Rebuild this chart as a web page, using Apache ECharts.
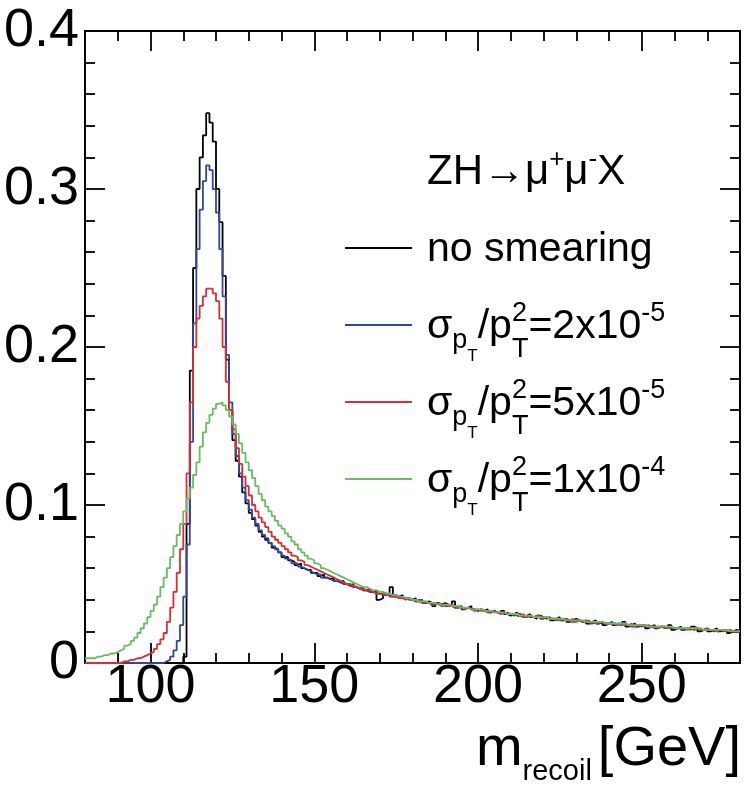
<!DOCTYPE html>
<html>
<head>
<meta charset="utf-8">
<script src="https://cdn.jsdelivr.net/npm/echarts@6/dist/echarts.min.js"></script>
<style>
  html, body { margin: 0; padding: 0; background: #fff; }
  #chart { width: 747px; height: 788px; }
</style>
</head>
<body>
<div id="chart"></div>
<script>
// histogram bins: 1 GeV wide, lower edges 80 ... 279
const binStart = 80
const binWidth = 1

// bin contents in units of 1e-3 (10 bins per row)
const noSmearing = [
  0, 0, 0, 0, 0, 0, 0, 0, 0, 0,
  0, 0, 0, 0, 0, 0, 0, 0, 0, 0,
  0, 0, 0, 0, 0, 0, 0, 0, 0, 0,
  4, 88, 185, 250, 300, 320, 334, 348, 342, 330,
  300, 279, 245, 192, 160, 141, 128, 118, 108, 101,
  95, 91, 87, 83, 80, 78, 76, 73, 72, 70,
  67, 67, 65, 64, 62, 63, 60, 59, 59, 57,
  57, 55, 56, 54, 53, 54, 52, 51, 52, 50,
  49, 50, 48, 47, 48, 46, 47, 45, 46, 40,
  41, 44, 43, 48, 43, 42, 43, 41, 41, 40,
  41, 39, 40, 38, 39, 38, 36, 38, 37, 38,
  37, 36, 39, 35, 36, 34, 35, 36, 34, 33,
  34, 33, 34, 32, 33, 32, 31, 33, 31, 30,
  31, 32, 30, 29, 30, 31, 29, 28, 30, 29,
  28, 29, 27, 28, 29, 27, 28, 26, 27, 28,
  27, 26, 27, 25, 26, 27, 25, 26, 24, 25,
  26, 24, 25, 24, 26, 23, 24, 25, 23, 24,
  24, 22, 23, 24, 22, 23, 23, 22, 24, 21,
  22, 23, 21, 22, 21, 23, 22, 20, 21, 22,
  20, 21, 22, 20, 21, 21, 19, 20, 21, 20
]

const smear2e5 = [
  0, 0, 0, 0, 0, 0, 0, 0, 0, 0,
  0, 0, 0, 0, 0, 0, 0, 0, 0, 0,
  0, 0, 0, 0, 1, 2, 4, 8, 14, 24,
  42, 75, 140, 215, 262, 287, 305, 315, 312, 300,
  285, 262, 232, 195, 165, 145, 131, 120, 111, 103,
  97, 92, 88, 84, 81, 79, 76, 74, 72, 70,
  68, 66, 65, 63, 63, 61, 60, 59, 58, 57,
  56, 56, 54, 54, 53, 52, 52, 51, 50, 50,
  49, 48, 48, 47, 46, 46, 45, 45, 44, 44,
  43, 43, 44, 42, 42, 41, 42, 41, 40, 40,
  39, 40, 39, 38, 38, 37, 38, 37, 36, 37,
  36, 36, 35, 36, 35, 34, 35, 34, 34, 33,
  34, 33, 33, 32, 33, 32, 32, 31, 32, 31,
  30, 31, 31, 30, 29, 30, 29, 29, 30, 28,
  29, 28, 28, 27, 28, 27, 28, 27, 26, 27,
  27, 26, 26, 27, 25, 26, 25, 26, 25, 25,
  25, 24, 25, 24, 25, 24, 23, 24, 24, 23,
  24, 23, 23, 22, 23, 23, 22, 23, 22, 22,
  22, 22, 21, 22, 22, 21, 22, 21, 21, 21,
  21, 20, 21, 21, 20, 21, 20, 20, 20, 20
]

const smear5e5 = [
  0, 0, 0, 0, 0, 0, 0, 0, 0, 0,
  0, 1, 1, 2, 2, 3, 3, 4, 5, 6,
  7, 9, 12, 15, 19, 26, 35, 45, 57, 72,
  88, 120, 165, 200, 218, 226, 232, 237, 237, 234,
  229, 218, 200, 178, 160, 148, 136, 126, 118, 112,
  106, 100, 96, 92, 89, 86, 83, 80, 78, 76,
  74, 72, 70, 68, 67, 65, 64, 62, 61, 60,
  59, 58, 57, 56, 55, 54, 53, 52, 51, 50,
  50, 49, 48, 47, 47, 46, 46, 45, 44, 44,
  44, 43, 43, 42, 42, 41, 41, 40, 41, 40,
  39, 39, 38, 39, 38, 37, 37, 38, 37, 36,
  36, 37, 36, 35, 35, 34, 35, 34, 33, 34,
  33, 33, 32, 33, 32, 32, 31, 32, 31, 31,
  31, 30, 30, 31, 29, 30, 29, 30, 29, 28,
  29, 28, 28, 28, 27, 28, 27, 27, 28, 26,
  27, 26, 27, 26, 26, 25, 26, 26, 25, 25,
  25, 25, 24, 25, 24, 24, 25, 23, 24, 24,
  23, 24, 23, 23, 22, 23, 23, 22, 23, 22,
  22, 22, 22, 21, 22, 21, 22, 21, 21, 22,
  21, 21, 20, 21, 21, 20, 21, 20, 20, 20
]

const smear1e4 = [
  3, 3, 3, 4, 4, 5, 5, 6, 6, 7,
  8, 9, 11, 12, 14, 16, 19, 22, 25, 29,
  33, 37, 42, 48, 54, 60, 67, 74, 81, 88,
  96, 104, 111, 119, 127, 137, 146, 152, 157, 161,
  164, 165, 163, 160, 156, 151, 145, 139, 133, 127,
  122, 117, 112, 107, 103, 99, 96, 93, 90, 87,
  85, 82, 80, 77, 75, 72, 70, 68, 66, 65,
  63, 62, 60, 59, 58, 57, 56, 55, 54, 53,
  52, 51, 50, 49, 48, 48, 47, 46, 46, 45,
  45, 44, 44, 43, 43, 42, 42, 41, 41, 40,
  40, 39, 39, 39, 38, 38, 38, 37, 37, 37,
  37, 36, 36, 36, 35, 35, 35, 34, 34, 34,
  34, 33, 33, 33, 32, 32, 32, 32, 31, 31,
  31, 31, 30, 30, 30, 30, 29, 29, 29, 29,
  29, 28, 28, 28, 28, 28, 27, 27, 27, 27,
  27, 27, 26, 26, 26, 26, 26, 26, 25, 25,
  25, 25, 25, 25, 25, 24, 24, 24, 24, 24,
  24, 23, 23, 23, 23, 23, 23, 23, 23, 22,
  22, 22, 22, 22, 22, 22, 22, 22, 21, 21,
  21, 21, 21, 21, 21, 21, 20, 20, 20, 20
]

const seriesNames = ['no smearing', 'σpT/pT2=2x10-5', 'σpT/pT2=5x10-5', 'σpT/pT2=1x10-4']
const seriesColors = ['#000000', '#34469c', '#dc2e30', '#66bd63']

const xMajorTicks = [100, 150, 200, 250]
const xMinorTicks = [90, 110, 120, 130, 140, 160, 170, 180, 190, 210, 220, 230, 240, 260, 270]

const FONT = '"Liberation Sans", Arial, Helvetica, sans-serif'

const chart = echarts.init(document.getElementById('chart'))

// histogram as step line: one point per lower edge plus the closing upper edge
function toSteps(values) {
  const pts = values.map((v, i) => [binStart + i * binWidth, v / 1000])
  pts.push([binStart + values.length * binWidth, values[values.length - 1] / 1000])
  return pts
}

// text measuring, used to lay out the sub/superscripts
const measureCtx = document.createElement('canvas').getContext('2d')
function textWidth(t, size) {
  measureCtx.font = size + 'px ' + FONT
  return measureCtx.measureText(t).width
}
function richWidth(pieces) {
  let w = 0
  pieces.forEach(p => { if (!p.stack) w += textWidth(p.t, p.size) + (p.gap || 0) })
  return w
}
function richText(x, baseline, pieces, color) {
  const els = []
  let cx = x
  pieces.forEach(p => {
    els.push({
      type: 'text',
      x: cx,
      y: baseline + (p.dy || 0) - 0.33 * p.size,
      silent: true,
      style: {
        text: p.t,
        font: p.size + 'px ' + FONT,
        fill: color || '#000',
        align: 'left', textAlign: 'left',
        verticalAlign: 'middle', textVerticalAlign: 'middle'
      }
    })
    if (!p.stack) cx += textWidth(p.t, p.size) + (p.gap || 0)
  })
  return els
}

function sigmaLabel(value, exp) {
  return [
    { t: 'σ', size: 41 },
    { t: 'p', size: 27, dy: 9 },
    { t: 'T', size: 17, dy: 22 },
    { t: '/p', size: 41 },
    { t: '2', size: 27, dy: -18, stack: true },
    { t: 'T', size: 27, dy: 18 },
    { t: '=' + value + 'x10', size: 41 },
    { t: exp, size: 27, dy: -18 }
  ]
}

const legendX = 345
const legendText = 427
const legendRows = [
  { y: 248, pieces: [{ t: 'no smearing', size: 41 }] },
  { y: 325, pieces: sigmaLabel('2', '-5') },
  { y: 402, pieces: sigmaLabel('5', '-5') },
  { y: 479, pieces: sigmaLabel('1', '-4') }
]

const graphics = []
graphics.push(...richText(legendText, 186, [
  { t: 'ZH', size: 42 },
  { t: '→', size: 42 },
  { t: 'μ', size: 42 },
  { t: '+', size: 26, dy: -18 },
  { t: 'μ', size: 42 },
  { t: '-', size: 26, dy: -18 },
  { t: 'X', size: 42 }
]))
legendRows.forEach((row, i) => {
  graphics.push({
    type: 'line',
    silent: true,
    shape: { x1: legendX, y1: row.y, x2: legendX + 67, y2: row.y },
    style: { stroke: seriesColors[i], lineWidth: 1.8 }
  })
  graphics.push(...richText(legendText, row.y + 15, row.pieces))
})

const titlePieces = [
  { t: 'm', size: 56 },
  { t: 'recoil', size: 29, dy: 14, gap: 6 },
  { t: '[GeV]', size: 56 }
]
graphics.push(...richText(741 - richWidth(titlePieces), 768, titlePieces))

const axisLineStyle = { color: '#000', width: 2 }

function xAxisDef(position, ticks, len, withLabels) {
  return {
    type: 'value',
    position: position,
    min: 80,
    max: 280,
    axisLine: { show: true, lineStyle: axisLineStyle },
    axisTick: { show: true, inside: true, length: len, customValues: ticks,
      lineStyle: { color: '#000', width: 1.8 } },
    axisLabel: withLabels
      ? { show: true, customValues: ticks, margin: -3, color: '#000', fontSize: 54, fontFamily: FONT }
      : { show: false },
    splitLine: { show: false }
  }
}

function yAxisDef(position, withLabels) {
  return {
    type: 'value',
    position: position,
    min: 0,
    max: 0.4,
    interval: 0.1,
    axisLine: { show: true, lineStyle: axisLineStyle },
    axisTick: { show: true, inside: true, length: 20, lineStyle: { color: '#000', width: 1.8 } },
    minorTick: { show: true, splitNumber: 5, length: 10, lineStyle: { color: '#000', width: 1.8 } },
    axisLabel: withLabels
      ? { show: true, margin: 6, color: '#000', fontSize: 54, fontFamily: FONT }
      : { show: false },
    splitLine: { show: false },
    minorSplitLine: { show: false }
  }
}

const allValues = [noSmearing, smear2e5, smear5e5, smear1e4]

const option = {
  animation: false,
  backgroundColor: '#fff',
  grid: { left: 85, right: 7, top: 31, bottom: 125, containLabel: false },
  xAxis: [
    xAxisDef('bottom', xMajorTicks, 20, true),
    xAxisDef('bottom', xMinorTicks, 10, false),
    xAxisDef('top', xMajorTicks, 20, false),
    xAxisDef('top', xMinorTicks, 10, false)
  ],
  yAxis: [
    yAxisDef('left', true),
    yAxisDef('right', false)
  ],
  series: allValues.map((vals, i) => ({
    name: seriesNames[i],
    type: 'line',
    step: 'end',
    xAxisIndex: 0,
    yAxisIndex: 0,
    showSymbol: false,
    symbol: 'none',
    clip: true,
    lineStyle: { color: seriesColors[i], width: 1.8 },
    data: toSteps(vals)
  })),
  graphic: graphics
}

chart.setOption(option)
</script>
</body>
</html>
